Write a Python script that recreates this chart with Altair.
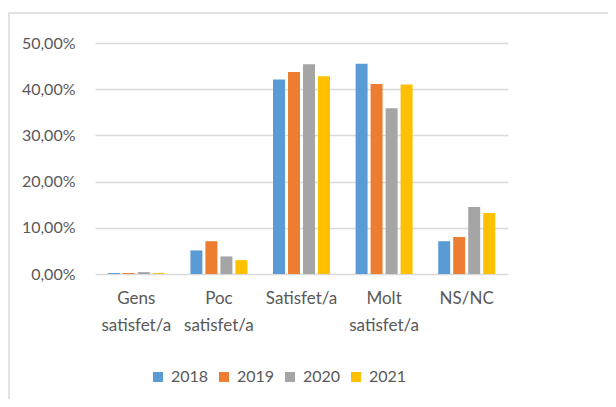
import altair as alt
import pandas as pd

categories = ["Gens satisfet/a", "Poc satisfet/a", "Satisfet/a", "Molt satisfet/a", "NS/NC"]
years = ["2018", "2019", "2020", "2021"]
v2018 = [0.002, 0.051, 0.421, 0.455, 0.071]
v2019 = [0.002, 0.071, 0.437, 0.411, 0.080]
v2020 = [0.004, 0.038, 0.454, 0.359, 0.145]
v2021 = [0.002, 0.030, 0.428, 0.410, 0.132]
colors = ["#5B9BD5", "#ED7D31", "#A5A5A5", "#FFC000"]

rows = []
for y, vals in zip(years, [v2018, v2019, v2020, v2021]):
    for c, v in zip(categories, vals):
        rows.append({"cat": c, "year": y, "value": v})
df = pd.DataFrame(rows)

FONT = "Lato"
GRAY = "#595959"

bars = alt.Chart(df).mark_bar().encode(
    x=alt.X("cat:N", sort=categories, title=None,
            scale=alt.Scale(paddingInner=0.31, paddingOuter=0.155),
            axis=alt.Axis(labelAngle=0, labelExpr="split(datum.label, ' ')",
                          labelFontSize=17, labelColor=GRAY, labelFont=FONT,
                          labelLineHeight=27, labelPadding=16, ticks=False,
                          grid=False, domain=False,
                          labelBaseline="top")),
    xOffset=alt.XOffset("year:N", sort=years, scale=alt.Scale(paddingInner=0.2)),
    y=alt.Y("value:Q", title=None,
            scale=alt.Scale(domain=[0, 0.5], nice=False),
            axis=alt.Axis(values=[0, 0.1, 0.2, 0.3, 0.4, 0.5],
                          labelExpr="replace(format(datum.value, '.2%'), '.', ',')",
                          labelFontSize=16, labelColor=GRAY, labelFont=FONT,
                          labelPadding=20, ticks=False, domain=False,
                          gridColor="#d9d9d9", gridWidth=1.5)),
    color=alt.Color("year:N", sort=years,
                    scale=alt.Scale(domain=years, range=colors),
                    legend=alt.Legend(title=None, orient="none", direction="horizontal",
                                      legendX=55, legendY=326,
                                      symbolType="square", symbolSize=100,
                                      symbolStrokeWidth=0,
                                      labelFontSize=16, labelColor=GRAY, labelFont=FONT,
                                      columnPadding=7, labelOffset=5)),
)

border = alt.Chart(pd.DataFrame({"a": [0]})).mark_rect(
    fill=None, stroke="#d9d9d9", strokeWidth=1.5, clip=False
).encode(
    x=alt.value(-86), x2=alt.value(700), y=alt.value(-30), y2=alt.value(600)
)

chart = alt.layer(border, bars).properties(
    width=413, height=231,
    autosize=alt.AutoSizeParams(type="none"),
    padding={"left": 87, "top": 35, "right": 100, "bottom": 125},
).configure(font=FONT).configure_view(stroke=None, strokeWidth=0)

chart.save("out.html", embed_options={"renderer": "svg", "actions": False})
